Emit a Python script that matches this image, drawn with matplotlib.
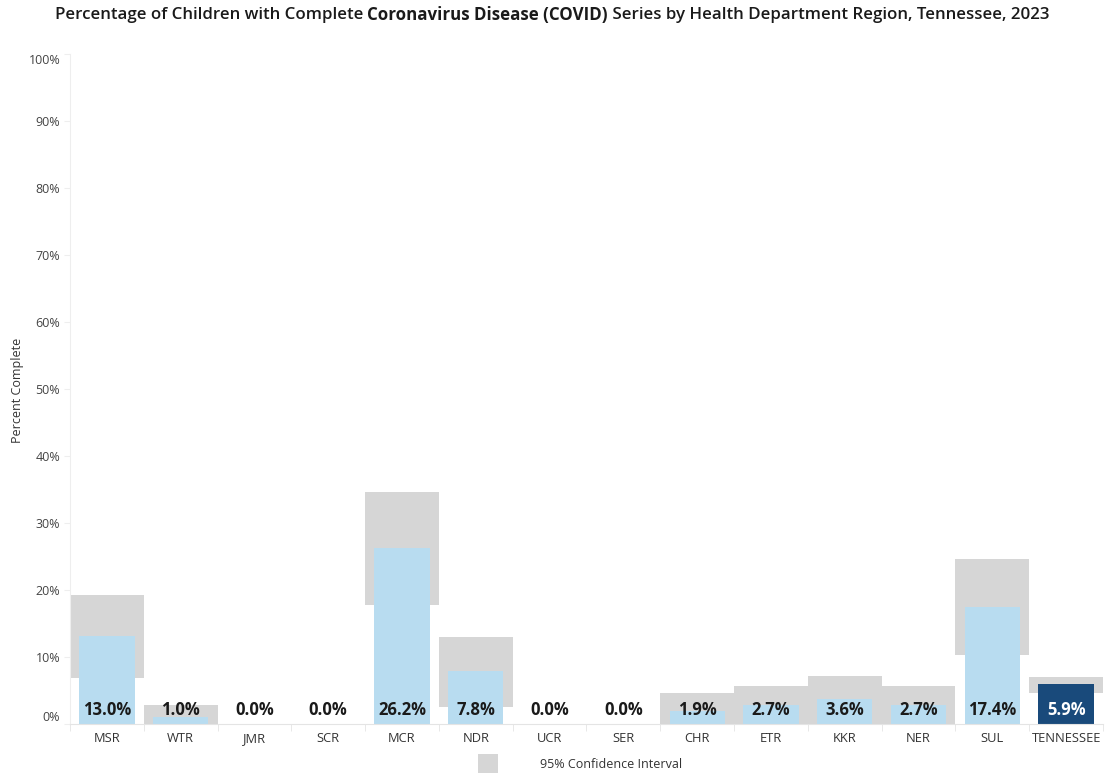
import numpy as np
import matplotlib
matplotlib.use("Agg")
import matplotlib.pyplot as plt

plt.rcParams['font.family'] = ['Open Sans', 'DejaVu Sans']

regions = ["MSR", "WTR", "JMR", "SCR", "MCR", "NDR", "UCR", "SER",
           "CHR", "ETR", "KKR", "NER", "SUL", "TENNESSEE"]
pct_complete = [13.0, 1.0, 0.0, 0.0, 26.2, 7.8, 0.0, 0.0,
                1.9, 2.7, 3.6, 2.7, 17.4, 5.9]
ci_low = [6.8, 0.0, 0.0, 0.0, 17.7, 2.4, 0.0, 0.0,
          0.0, 0.0, 0.0, 0.0, 10.2, 4.5]
ci_high = [19.2, 2.8, 0.0, 0.0, 34.6, 12.9, 0.0, 0.0,
           4.5, 5.6, 7.1, 5.6, 24.6, 7.0]

light_blue = "#b8dcf0"
dark_blue = "#194a7b"
ci_gray = "#d6d6d6"
grid_c = "#e4e4e4"

fig = plt.figure(figsize=(11.07, 7.8), dpi=100)
ax = fig.add_axes([0.0632, 0.0724, 0.9332, 0.8590])

x = np.arange(len(regions))
lo = np.array(ci_low)
hi = np.array(ci_high)
ax.bar(x, hi - lo, bottom=lo, width=1.0, color=ci_gray, linewidth=0, zorder=1)
colors = [dark_blue if r == "TENNESSEE" else light_blue for r in regions]
ax.bar(x, pct_complete, width=0.75, color=colors, linewidth=0, zorder=2)

for xi, v, r in zip(x, pct_complete, regions):
    ax.annotate(f"{v:.1f}%", (xi, 0), xytext=(0, 3), textcoords="offset points",
                ha="center", va="bottom", fontsize=12, fontweight="bold",
                color="white" if r == "TENNESSEE" else "#1a1a1a", zorder=3)

ax.set_xlim(-0.5, len(regions) - 0.5)
ax.set_ylim(0, 100)
ax.set_xticks(x)
ax.set_xticklabels(regions, fontsize=9.3, color="#333333")
ax.set_xticks(np.arange(len(regions) + 1) - 0.5, minor=True)
ax.tick_params(axis="x", which="major", length=0, pad=6)
ax.tick_params(axis="x", which="minor", length=5, color=grid_c)

yt = np.arange(0, 101, 10)
ax.set_yticks(yt)
ax.set_yticklabels([f"{v}%" for v in yt], fontsize=9, color="#444444")
ax.tick_params(axis="y", length=4, color="#eeeeee", pad=3)
ylabels = ax.get_yticklabels()
ylabels[0].set_va("bottom")
ylabels[-1].set_va("top")

for s in ["top", "right"]:
    ax.spines[s].set_visible(False)
ax.spines["left"].set_color("#eeeeee")
ax.spines["bottom"].set_color(grid_c)

fig.text(0.0154, 0.5, "Percent Complete", rotation=90, ha="center", va="center",
         fontsize=9, color="#333333")

# title with a bold middle part
parts = [("Percentage of Children with Complete ", "semibold"),
         ("Coronavirus Disease (COVID)", "bold"),
         (" Series by Health Department Region, Tennessee, 2023", "semibold")]
renderer = fig.canvas.get_renderer()
texts = []
for s, w in parts:
    t = fig.text(0, 1 - 15 / 780, s, fontsize=12.2, fontweight=w, color="#1a1a1a",
                 ha="left", va="center")
    texts.append(t)
widths = [t.get_window_extent(renderer).width for t in texts]
total = sum(widths)
x0 = (552 - total / 2)
for t, w in zip(texts, widths):
    t.set_x(x0 / 1107)
    x0 += w

# legend
fig.patches.append(plt.Rectangle((478 / 1107, 1 - 773 / 780), 20 / 1107, 19 / 780,
                                 transform=fig.transFigure, color=ci_gray, linewidth=0))
fig.text(540 / 1107, 1 - 765 / 780, "95% Confidence Interval", fontsize=9,
         color="#333333", ha="left", va="center")

fig.savefig("out.png", dpi=100)
